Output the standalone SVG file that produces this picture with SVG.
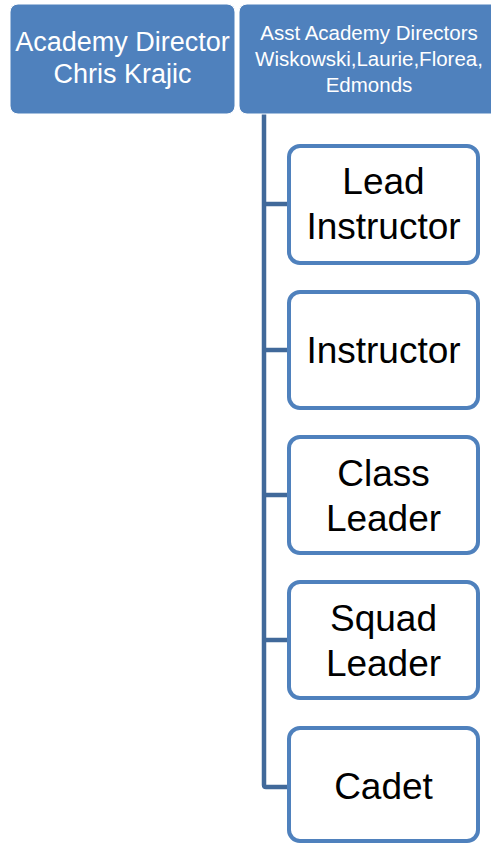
<svg xmlns="http://www.w3.org/2000/svg" width="491" height="843" viewBox="0 0 491 843">
<style>
.top{fill:#4F81BD;stroke:#FFFFFF;stroke-width:1}
.child{fill:#FFFFFF;stroke:#4F81BD;stroke-width:4}
.tw{font-family:"Liberation Sans",Arial,sans-serif;fill:#FFFFFF;text-anchor:middle}
.tb{font-family:"Liberation Sans",Arial,sans-serif;fill:#000000;text-anchor:middle;font-size:37px}
.conn{fill:none;stroke:#41699A;stroke-width:4.5;stroke-linejoin:round}
</style>
<rect width="491" height="843" fill="#FFFFFF"/>
<g id="connectors">
<path class="conn" d="M264 114 V785 Q264 787 266 787 H289"/>
<path class="conn" d="M264 204 H289"/>
<path class="conn" d="M264 350 H289"/>
<path class="conn" d="M264 495 H289"/>
<path class="conn" d="M264 640 H289"/>
</g>
<g id="academy-director">
<rect class="top" x="10" y="4" width="225" height="110" rx="8"/>
<text class="tw" font-size="27" x="122.5" y="51">Academy Director</text>
<text class="tw" font-size="27" x="122.5" y="83">Chris Krajic</text>
</g>
<g id="asst-directors">
<rect class="top" x="239" y="4" width="262" height="110" rx="8"/>
<text class="tw" font-size="20.5" x="369" y="40">Asst Academy Directors</text>
<text class="tw" font-size="20.5" x="369" y="66">Wiskowski,Laurie,Florea,</text>
<text class="tw" font-size="20.5" x="369" y="92">Edmonds</text>
</g>
<g id="lead-instructor">
<rect class="child" x="289" y="146" width="189" height="117" rx="11"/>
<text class="tb" x="383.5" y="194">Lead</text>
<text class="tb" x="383.5" y="239">Instructor</text>
</g>
<g id="instructor">
<rect class="child" x="289" y="292" width="189" height="116" rx="11"/>
<text class="tb" x="383.5" y="363">Instructor</text>
</g>
<g id="class-leader">
<rect class="child" x="289" y="437" width="189" height="116" rx="11"/>
<text class="tb" x="383.5" y="486">Class</text>
<text class="tb" x="383.5" y="531">Leader</text>
</g>
<g id="squad-leader">
<rect class="child" x="289" y="582" width="189" height="116" rx="11"/>
<text class="tb" x="383.5" y="631">Squad</text>
<text class="tb" x="383.5" y="676">Leader</text>
</g>
<g id="cadet">
<rect class="child" x="289" y="728" width="189" height="113" rx="11"/>
<text class="tb" x="383.5" y="799">Cadet</text>
</g>
</svg>
